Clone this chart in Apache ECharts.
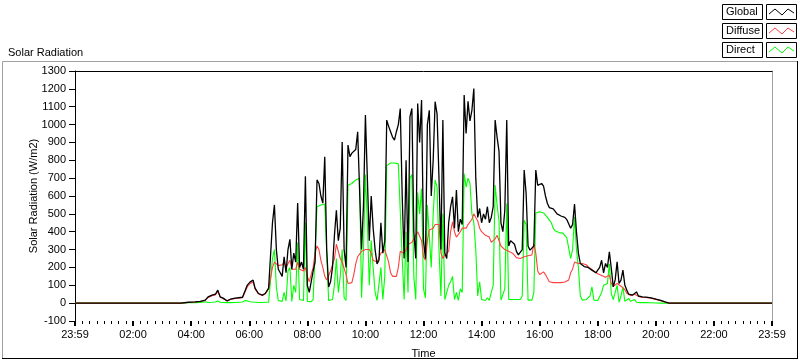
<!DOCTYPE html>
<html><head><meta charset="utf-8">
<script src="https://cdn.jsdelivr.net/npm/echarts@6/dist/echarts.min.js"></script>
<style>html,body{margin:0;padding:0;background:#fff}#c{width:800px;height:361px}</style>
</head><body><div id="c"></div>
<script>
// time of each sample, minutes after midnight
const minutes = [0,219,234,248,259,269,275,283,290,295,300,306,314,321,331,346,352,356,362,368,372,379,387,393,
400,404,408,412,416,420,424,428,432,436,440,444,448,452,456,460,464,468,472,476,
480,484,488,492,496,500,504,508,512,516,520,524,528,532,536,540,544,548,552,556,
560,564,568,572,576,580,584,588,
592,596,600,604,608,612,616,620,624,628,632,636,640,644,648,652,656,660,664,668,
672,676,680,684,688,692,696,700,704,708,712,716,720,724,728,732,736,740,744,748,
752,756,760,764,
768,772,776,780,784,788,792,796,800,804,808,812,816,820,824,828,832,836,840,844,
848,852,856,860,864,868,872,876,880,884,888,892,896,900,904,908,912,916,920,924,
928,932,936,940,
944,948,952,956,960,964,968,972,976,980,984,988,992,996,1000,1004,1008,1012,1016,1020,
1024,1028,1032,1036,1040,1044,1048,1052,1056,1060,1064,1068,1072,1076,1080,1084,1088,1092,1096,1100,
1104,1108,1112,1116,1120,1124,1128,1132,1136,1140,1144,1148,1152,1156,1160,1164,1168,1172,1176,1180,
1190,1200,1210,1219,1227,1440];

const globalRad = [0,0,5,7,10,17,35,45,50,73,35,28,13,22,28,33,73,101,119,129,84,54,45,54,
84,95,450,550,300,190,170,150,260,170,
300,357,190,280,230,560,200,230,190,711,
100,60,70,180,230,690,670,600,560,820,
300,90,120,200,380,520,350,420,903,300,
200,885,820,840,850,860,960,969,
300,550,1053,700,350,600,420,300,220,240,
450,280,350,1025,990,960,930,913,960,1000,
1090,600,250,800,230,1043,1090,400,250,1118,
900,1137,350,250,1000,1080,600,800,1128,1060,
700,300,1025,280,
250,450,540,595,420,633,400,470,440,1165,
950,1130,1020,1080,1202,700,480,530,450,500,
470,540,450,480,540,1025,930,850,450,400,
520,1025,320,350,340,330,290,270,260,300,
745,615,320,297,
300,320,745,660,650,670,655,600,558,535,
530,528,520,500,490,488,484,480,468,460,
420,440,555,400,280,222,220,205,203,200,
195,185,180,170,166,200,240,170,222,200,
287,194,91,130,231,110,129,185,100,73,
50,45,45,55,63,40,36,35,35,34,
30,22,15,7,0,0];

const diffuseRad = [0,0,4,6,9,15,32,42,46,66,33,26,12,20,26,30,66,92,110,118,80,52,43,52,
80,90,200,230,220,210,200,215,230,200,
220,240,190,200,190,230,190,200,180,200,
150,120,130,200,280,320,300,240,200,150,
130,140,180,190,250,330,320,250,230,220,
160,110,110,115,160,220,260,270,
290,300,300,300,300,280,240,230,230,230,
280,290,300,290,230,170,150,150,150,200,
290,300,280,300,330,340,340,350,380,400,
400,350,260,240,350,410,410,420,440,445,
440,280,250,270,
280,290,400,455,400,370,360,400,420,430,
420,440,450,470,500,490,460,420,400,390,
380,370,370,340,340,360,380,370,320,310,
300,290,290,290,280,270,255,250,250,255,
260,265,265,265,
270,334,280,180,160,160,175,160,140,120,
115,115,115,115,115,115,115,118,120,130,
170,190,230,225,222,222,222,220,215,205,
195,185,180,175,165,160,155,150,145,140,
157,110,95,100,110,105,95,90,75,55,
45,42,42,50,55,38,34,33,33,32,
28,21,14,6,0,0];

const directRad = [0,0,3,3,4,8,4,5,6,12,5,4,3,3,4,6,15,10,8,6,5,4,4,5,
5,8,250,300,90,15,10,10,60,12,
180,200,10,100,60,340,20,30,15,450,
10,5,8,20,30,540,545,550,550,555,
545,15,10,20,100,250,60,150,300,30,
15,660,670,670,680,690,700,700,
30,300,720,450,100,350,200,60,15,15,
200,20,150,770,780,785,780,785,780,780,
790,250,20,400,60,700,720,150,20,620,
500,640,80,30,550,550,200,500,690,650,
300,40,500,20,
20,100,120,150,20,60,15,80,60,726,
650,700,670,500,450,300,40,120,20,15,
15,30,15,60,100,661,550,460,17,15,
80,558,20,15,20,30,20,15,20,40,
465,440,17,15,
17,60,505,510,512,510,505,495,480,465,
450,420,405,400,395,395,392,385,365,355,
250,300,484,300,200,40,17,17,20,17,
40,91,17,15,15,20,60,100,90,110,
220,54,20,60,100,5,40,91,10,5,
26,10,5,20,5,3,3,3,3,3,
2,1,0,0,0,0];

const seriesNames = ['Global','Diffuse','Direct'];
const seriesColors = ['#000000','#ff4040','#00ff00'];
const timeLabels = ['23:59','02:00','04:00','06:00','08:00','10:00','12:00','14:00','16:00','18:00','20:00','22:00','23:59'];
const xMin = 0, xMax = 1440, xStep = 120;
const yMin = -100, yMax = 1300, yStep = 100;

const FONT = 'Liberation Sans, Arial, sans-serif';
const values = [globalRad, diffuseRad, directRad];
const pair = arr => minutes.map((m, i) => [m, arr[i]]);

const chart = echarts.init(document.getElementById('c'), null, {renderer: 'canvas'});

const legendGraphics = [];
seriesNames.forEach((name, i) => {
  const y = 4 + i * 19;
  legendGraphics.push({type: 'rect', shape: {x: 722.5, y: y + 0.5, width: 40, height: 15},
    style: {fill: '#fff', stroke: '#000', lineWidth: 1}, silent: true});
  legendGraphics.push({type: 'text', x: 726, y: y + 8, style: {text: name, font: '11px ' + FONT, fill: '#000', verticalAlign: 'middle'}, silent: true});
  legendGraphics.push({type: 'rect', shape: {x: 766.5, y: y + 0.5, width: 30, height: 15},
    style: {fill: '#fff', stroke: '#000', lineWidth: 1}, silent: true});
  legendGraphics.push({type: 'polyline', shape: {points: [[769, y + 10], [775, y + 5], [782, y + 11], [788, y + 5], [794, y + 9]]},
    style: {stroke: seriesColors[i], lineWidth: 1, fill: null}, silent: true});
});

const frame = [
  {type: 'line', shape: {x1: 2.5, y1: 61.5, x2: 797.5, y2: 61.5}, style: {stroke: '#a0a0a0', lineWidth: 1}, silent: true},
  {type: 'line', shape: {x1: 2.5, y1: 61.5, x2: 2.5, y2: 358.5}, style: {stroke: '#a0a0a0', lineWidth: 1}, silent: true},
  {type: 'line', shape: {x1: 2, y1: 358.5, x2: 798, y2: 358.5}, style: {stroke: '#000', lineWidth: 1}, silent: true},
  {type: 'line', shape: {x1: 797.5, y1: 61, x2: 797.5, y2: 359}, style: {stroke: '#000', lineWidth: 1}, silent: true}
];

const order = [2, 1, 0]; // draw Direct, Diffuse, then Global on top
const widths = [1.3, 1.1, 1.1];
const series = order.map((idx, z) => ({
  name: seriesNames[idx],
  type: 'line',
  data: pair(values[idx]),
  showSymbol: false,
  symbol: 'none',
  sampling: null,
  lineStyle: {color: seriesColors[idx], width: widths[idx]},
  itemStyle: {color: seriesColors[idx]},
  z: 2 + z,
  animation: false
}));

chart.setOption({
  animation: false,
  backgroundColor: '#ffffff',
  title: {text: 'Solar Radiation', left: 3, top: 42, textStyle: {fontSize: 11, fontWeight: 'normal', color: '#000', fontFamily: FONT}},
  grid: {left: 75, right: 28, top: 71, bottom: 40, containLabel: false, outerBoundsMode: 'none'},
  xAxis: [{
    type: 'value', min: xMin, max: xMax, interval: xStep, position: 'bottom',
    name: 'Time', nameLocation: 'middle', nameGap: 27, nameMoveOverlap: false,
    nameTextStyle: {color: '#000', fontSize: 11, fontFamily: FONT},
    axisLine: {show: false, onZero: false},
    axisTick: {show: true, length: 5, lineStyle: {color: '#000', width: 2}},
    minorTick: {show: true, splitNumber: 8, length: 3, lineStyle: {color: '#000', width: 1}},
    axisLabel: {color: '#000', fontSize: 11, fontFamily: FONT, margin: 8,
      formatter: v => timeLabels[Math.round((v - xMin) / xStep)] || ''},
    splitLine: {show: false}
  }, {
    type: 'value', min: xMin, max: xMax, position: 'top',
    axisLine: {show: true, onZero: false, lineStyle: {color: '#000', width: 1}},
    axisTick: {show: false}, axisLabel: {show: false}, splitLine: {show: false}
  }],
  yAxis: [{
    type: 'value', min: yMin, max: yMax, interval: yStep, position: 'left',
    name: 'Solar Radiation (W/m2)', nameLocation: 'middle', nameGap: 36, nameRotate: 90, nameMoveOverlap: false,
    nameTextStyle: {color: '#000', fontSize: 11, fontFamily: FONT},
    axisLine: {show: true, onZero: false, lineStyle: {color: '#000', width: 1}},
    axisTick: {show: true, length: 6, lineStyle: {color: '#000'}},
    axisLabel: {color: '#000', fontSize: 11, fontFamily: FONT, margin: 9, formatter: v => String(v)},
    splitLine: {show: false}
  }, {
    type: 'value', min: yMin, max: yMax, position: 'right',
    axisLine: {show: true, onZero: false, lineStyle: {color: '#a0a0a0', width: 1}},
    axisTick: {show: false}, axisLabel: {show: false}, splitLine: {show: false}
  }],
  graphic: frame.concat(legendGraphics),
  series: series
});
</script>
</body></html>
